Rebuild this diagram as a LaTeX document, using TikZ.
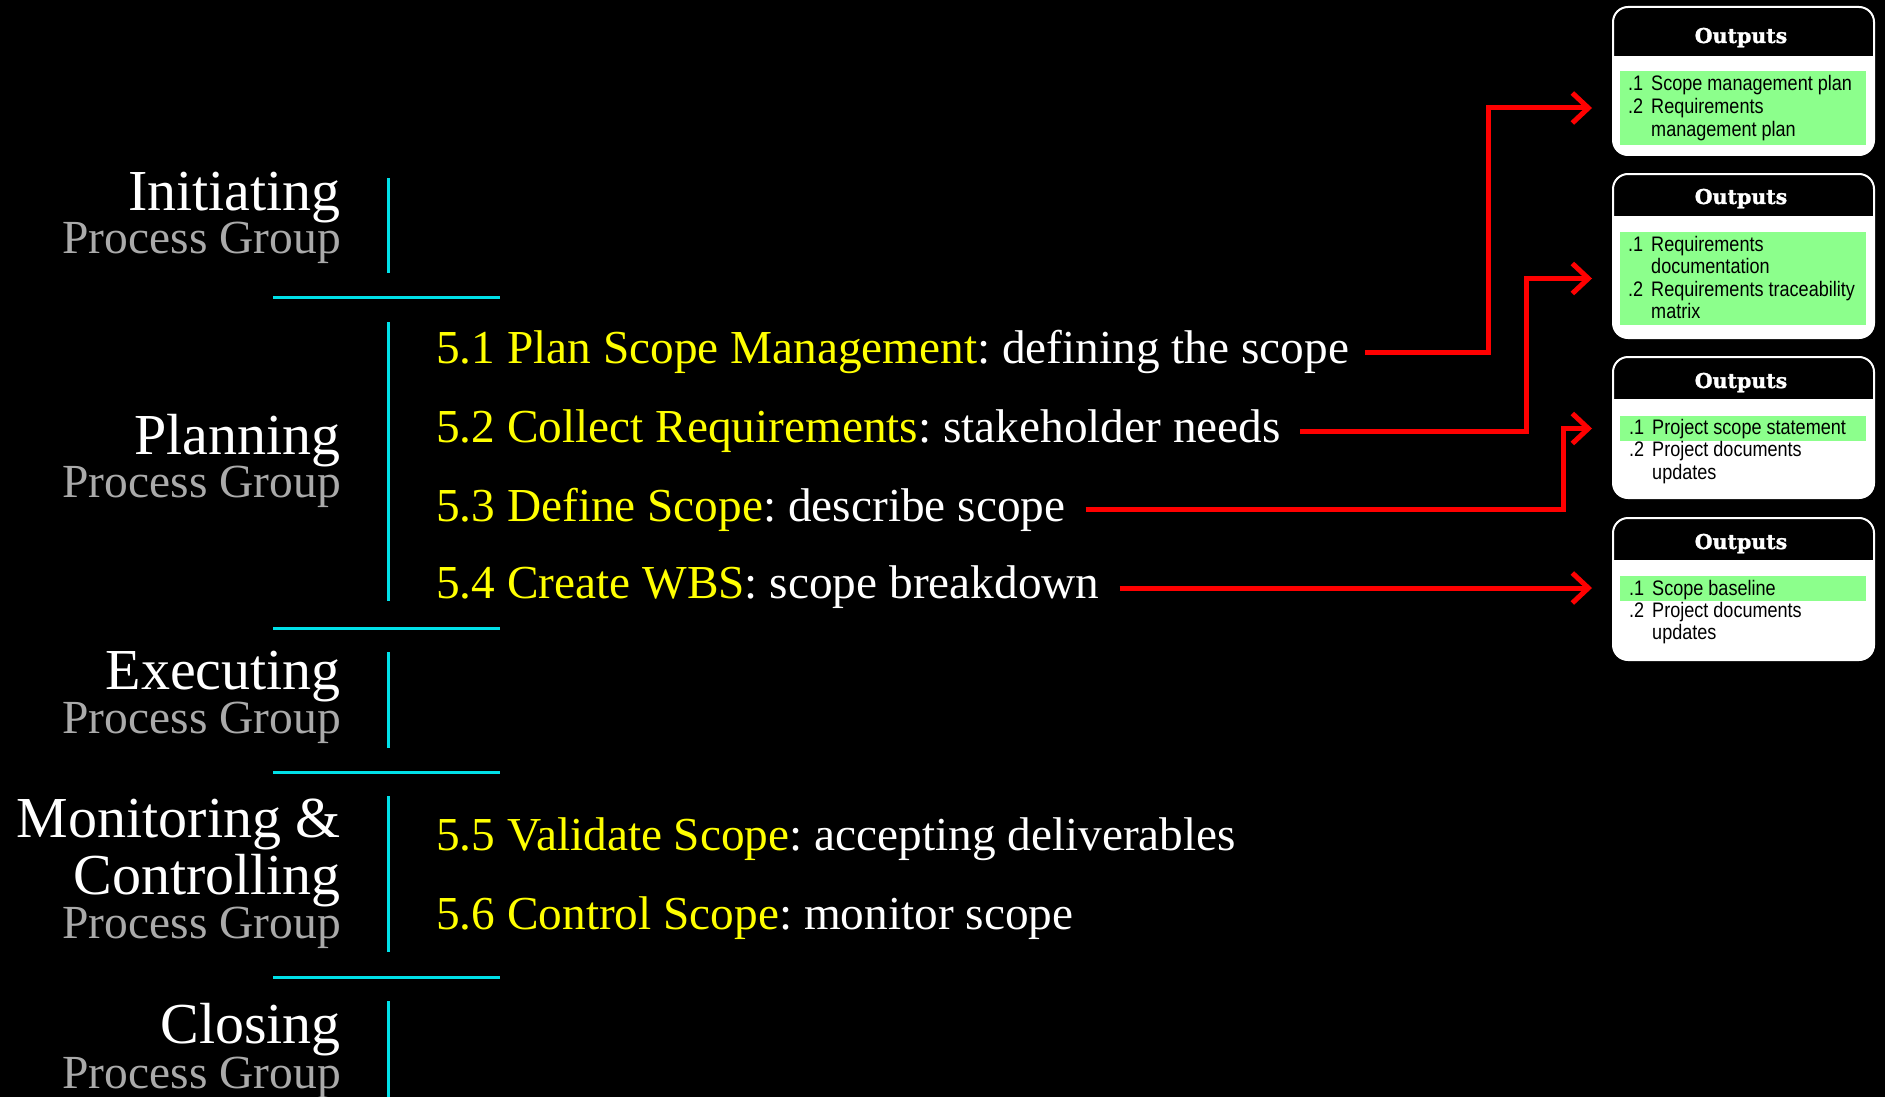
\documentclass[tikz,border=0pt]{standalone}
\usepackage{fontspec}
\setmainfont{Liberation Serif}
\newfontfamily\boxfont{Liberation Sans}[FakeStretch=0.86]
\newfontfamily\slabfont{DejaVu Serif}[BoldFeatures={FakeBold=1.3}]
\usetikzlibrary{arrows.meta,calc}
\frenchspacing
\definecolor{yl}{RGB}{255,255,0}
\definecolor{cy}{RGB}{0,224,232}
\definecolor{pg}{RGB}{170,170,170}
\definecolor{rd}{RGB}{255,0,0}
\definecolor{gr}{RGB}{140,255,140}
\tikzset{
  grp/.style={anchor=base east, inner sep=0pt, text=white, text depth=0pt, font=\fontsize{58}{60}\selectfont},
  grpsub/.style={anchor=base east, inner sep=0pt, text=pg, text height=22pt, font=\fontsize{47.5}{48}\selectfont},
  proc/.style={anchor=base west, inner sep=0pt, text=white, font=\fontsize{47.3}{50}\selectfont},
  sepline/.style={draw=cy, line width=3pt},
  arr/.style={draw=rd, line width=5pt, -{Straight Barb[length=16pt,width=30pt]}},
  obox/.style={rectangle, rounded corners=15pt, fill=white, draw=none, outer sep=0pt, inner sep=0pt, minimum width=261pt, anchor=north west},
  oborder/.style={draw=white, line width=2pt, rounded corners=15pt},
  hdr/.style={anchor=base, inner sep=0pt, text=white, font=\slabfont\bfseries\fontsize{20.5}{22}\selectfont},
  itm/.style={anchor=base west, inner sep=0pt, text=black, font=\boxfont\fontsize{21}{23}\selectfont},
  greenbar/.style={fill=gr, draw=none, inner sep=0pt, outer sep=0pt, minimum width=246pt, anchor=north west},
}
\begin{document}
\begin{tikzpicture}[x=1pt,y=-1pt]
\useasboundingbox (0,0) rectangle (1885,1097);
\fill[black] (0,0) rectangle (1885,1097);

% ---------- group labels ----------
\node[grp] (init) at (341,210) {Initiating};
\node[grpsub] (initpg) at (341,253) {Process Group};
\node[grp] (plan) at (341,454) {Planning};
\node[grpsub] (planpg) at (341,497) {Process Group};
\node[grp] (exec) at (341,689) {Executing};
\node[grpsub] (execpg) at (341,733) {Process Group};
\node[grp] (mon) at (341,837) {Monitoring \&};
\node[grp] (ctrl) at (341,894) {Controlling};
\node[grpsub] (monpg) at (341,938) {Process Group};
\node[grp] (clos) at (341,1043) {Closing};
\node[grpsub] (clospg) at (341,1088) {Process Group};

% ---------- separators ----------
\draw[sepline] (388,178) -- (388,273);
\draw[sepline] (273,297) -- (500,297);
\draw[sepline] (388,322) -- (388,601);
\draw[sepline] (273,628) -- (500,628);
\draw[sepline] (388,652) -- (388,748);
\draw[sepline] (273,772) -- (500,772);
\draw[sepline] (388,796) -- (388,952);
\draw[sepline] (273,977) -- (500,977);
\draw[sepline] (388,1001) -- (388,1097);

% ---------- processes ----------
\node[proc] (p1) at (436,363) {{\color{yl}5.1 Plan Scope Management}: defining the scope};
\node[proc] (p2) at (436,442) {{\color{yl}5.2 Collect Requirements}: stakeholder needs};
\node[proc] (p3) at (436,521) {{\color{yl}5.3 Define Scope}: describe scope};
\node[proc] (p4) at (436,598) {{\color{yl}5.4 Create WBS}: scope breakdown};
\node[proc] (p5) at (436,850) {{\color{yl}5.5 Validate Scope}: accepting deliverables};
\node[proc] (p6) at (436,929) {{\color{yl}5.6 Control Scope}: monitor scope};

% ---------- output box 1 ----------
\node[obox, minimum height=148pt] (b1) at (1613,7) {};
\begin{scope}
  \clip[rounded corners=15pt] (b1.north west) rectangle (b1.south east);
  \fill[black] (b1.north west) rectangle ($(b1.north east)+(0,49)$);
\end{scope}
\draw[oborder] (b1.north west) rectangle (b1.south east);
\node[hdr] (h1) at (1741,43) {Outputs};
\node[greenbar, minimum height=74pt] (g1) at (1620,71) {};
\node[itm] (n11) at (1628,91) {.1};
\node[itm] (t11) at (1651,91) {Scope management plan};
\node[itm] (n12) at (1628,114) {.2};
\node[itm] (t12) at (1651,114) {Requirements};
\node[itm] (t12b) at (1651,137) {management plan};

% ---------- output box 2 ----------
\node[obox, minimum height=164pt] (b2) at (1613,174) {};
\begin{scope}
  \clip[rounded corners=15pt] (b2.north west) rectangle (b2.south east);
  \fill[black] (b2.north west) rectangle ($(b2.north east)+(0,42)$);
\end{scope}
\draw[oborder] (b2.north west) rectangle (b2.south east);
\node[hdr] (h2) at (1741,204) {Outputs};
\node[greenbar, minimum height=93pt] (g2) at (1620,232) {};
\node[itm] (n21) at (1628,251) {.1};
\node[itm] (t21) at (1651,251) {Requirements};
\node[itm] (t21b) at (1651,273.5) {documentation};
\node[itm] (n22) at (1628,296) {.2};
\node[itm] (t22) at (1651,296) {Requirements traceability};
\node[itm] (t22b) at (1651,318.5) {matrix};

% ---------- output box 3 ----------
\node[obox, minimum height=141pt] (b3) at (1613,357) {};
\begin{scope}
  \clip[rounded corners=15pt] (b3.north west) rectangle (b3.south east);
  \fill[black] (b3.north west) rectangle ($(b3.north east)+(0,42)$);
\end{scope}
\draw[oborder] (b3.north west) rectangle (b3.south east);
\node[hdr] (h3) at (1741,388) {Outputs};
\node[greenbar, minimum height=25pt] (g3) at (1620,416) {};
\node[itm] (n31) at (1629,434) {.1};
\node[itm] (t31) at (1652,434) {Project scope statement};
\node[itm] (n32) at (1629,456.5) {.2};
\node[itm] (t32) at (1652,456.5) {Project documents};
\node[itm] (t32b) at (1652,479) {updates};

% ---------- output box 4 ----------
\node[obox, minimum height=142pt] (b4) at (1613,518) {};
\begin{scope}
  \clip[rounded corners=15pt] (b4.north west) rectangle (b4.south east);
  \fill[black] (b4.north west) rectangle ($(b4.north east)+(0,42)$);
\end{scope}
\draw[oborder] (b4.north west) rectangle (b4.south east);
\node[hdr] (h4) at (1741,549) {Outputs};
\node[greenbar, minimum height=25pt] (g4) at (1620,576) {};
\node[itm] (n41) at (1629,595) {.1};
\node[itm] (t41) at (1652,595) {Scope baseline};
\node[itm] (n42) at (1629,617) {.2};
\node[itm] (t42) at (1652,617) {Project documents};
\node[itm] (t42b) at (1652,639) {updates};

% ---------- connectors ----------
\coordinate (v1) at (1488,0);
\coordinate (v2) at (1526,0);
\coordinate (v3) at (1563,0);
\coordinate (t1) at ([xshift=-28pt]g1.west);
\coordinate (t2) at ([xshift=-28pt]g2.west);
\coordinate (t3) at ([xshift=-28pt]g3.west);
\coordinate (t4) at ([xshift=-28pt]g4.west);
\coordinate (s1) at ($(p1.base east)+(16,-11)$);
\coordinate (s2) at ($(p2.base east)+(19,-11)$);
\coordinate (s3) at ($(p3.base east)+(20,-12)$);
\coordinate (s4) at ($(p4.base east)+(20,-10)$);
\draw[arr] (s1) -| (v1 |- t1) -- (t1);
\draw[arr] (s2) -| (v2 |- t2) -- (t2);
\draw[arr] (s3) -| (v3 |- t3) -- (t3);
\draw[arr] (s4) -- (s4 -| t4);
\end{tikzpicture}
\end{document}
